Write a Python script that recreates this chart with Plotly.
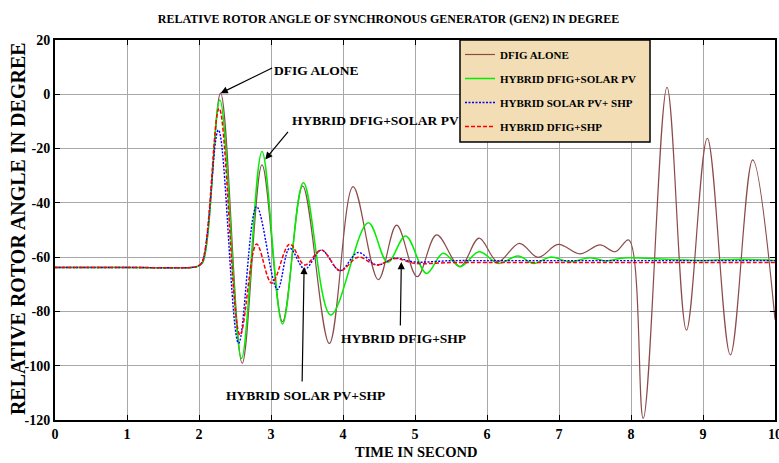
import plotly.graph_objects as go

# ---- data ----
t_dfig = [0, 1.0, 1.9, 1.97, 2.05, 2.30, 2.60, 2.875, 3.16, 3.44, 3.81, 4.14, 4.49, 4.745, 5.03, 5.30,
          5.625, 5.89, 6.15, 6.45, 6.71, 6.99, 7.29, 7.57, 7.78, 7.97, 8.17, 8.50, 8.77, 9.06,
          9.38, 9.69, 10.0]
v_dfig = [-63.8, -63.8, -63.8, -63.5, -62, 0.4, -99.1, -26, -83.8, -33.8, -91.8, -34, -68.3, -48.2, -67.2, -51.8,
          -63.5, -53, -61.7, -54.9, -60.1, -55.3, -58.8, -55.5, -58, -53.7, -119.4, 2.6, -86.9, -16.2,
          -96, -24.2, -83]

t_pv = [0, 1.0, 1.9, 1.97, 2.05, 2.29, 2.59, 2.875, 3.16, 3.45, 3.83, 4.35, 4.62, 4.87, 5.16, 5.39, 5.63,
        5.89, 6.16, 6.43, 6.65, 6.88, 7.15, 7.43, 7.65, 7.9, 8.5, 9.0, 9.5, 10]
v_pv = [-63.8, -63.8, -63.8, -63.5, -62, -2.1, -97.3, -21.1, -84.6, -32.6, -81.3, -47.3, -61.9, -52.2, -66, -58.6, -63.5,
        -58, -62.3, -59.6, -62.3, -60, -61.7, -60.2, -61.4, -60.3, -60.8, -61.2, -60.8, -61.2]

t_pvshp = [0, 1.0, 1.9, 1.96, 2.04, 2.27, 2.55, 2.80, 3.09, 3.26, 3.47, 3.70, 3.96, 4.21, 4.47, 4.72, 5.0,
           5.5, 6, 7, 8, 9, 10]
v_pvshp = [-63.8, -63.8, -63.8, -63.5, -62, -13.2, -91.7, -41.4, -71.9, -56.7, -64.4, -57.4, -65, -58.3, -62.9, -60.4, -61.8,
           -61.3, -61.3, -61.3, -61.3, -61.3, -61.3]

t_shp = [0, 1.0, 1.9, 1.96, 2.04, 2.28, 2.57, 2.80, 3.01, 3.26, 3.47, 3.70, 3.96, 4.21, 4.47, 4.72, 5.0,
         5.5, 6, 7, 8, 9, 10]
v_shp = [-63.8, -63.8, -63.8, -63.5, -62, -5.2, -88.7, -55.2, -69.6, -55.2, -62.9, -57.4, -65, -60, -62.9, -60.5, -62.3,
         -62, -62, -62, -62, -62, -62]

names = ["DFIG ALONE", "HYBRID DFIG+SOLAR PV", "HYBRID SOLAR PV+ SHP", "HYBRID DFIG+SHP"]
x_ticks = [0, 1, 2, 3, 4, 5, 6, 7, 8, 9, 10]
y_ticks = [20, 0, -20, -40, -60, -80, -100, -120]

SERIF = "Liberation Serif, Times New Roman, serif"

fig = go.Figure()
series = [
    (t_dfig, v_dfig, names[0], "#8c4b4b", "solid", 1.2),
    (t_pv, v_pv, names[1], "#00ee00", "solid", 1.5),
    (t_pvshp, v_pvshp, names[2], "#0000ff", "2px,1.5px", 1.4),
    (t_shp, v_shp, names[3], "#ff0000", "4px,2px", 1.5),
]
for i, (tx, vy, nm, col, dash, w) in enumerate(series):
    fig.add_trace(go.Scatter(
        x=tx, y=vy, name=nm, mode="lines", legendgroup=str(i),
        line=dict(color=col, dash=dash, width=w, shape="spline", smoothing=1.0),
    ))

axis_common = dict(
    showgrid=True, gridcolor="#a8a8a8", gridwidth=1,
    showline=True, linecolor="black", linewidth=2, mirror="allticks",
    ticks="inside", ticklen=5, tickcolor="black", tickwidth=1,
    zeroline=False, automargin=False, ticklabeloverflow="allow",
    tickfont=dict(family=SERIF, size=14, color="black", weight="bold"),
)
fig.update_xaxes(range=[0, 10], tickvals=x_ticks, ticktext=[str(v) for v in x_ticks], **axis_common)
fig.update_yaxes(range=[-120, 20], tickvals=y_ticks, ticktext=[str(v) for v in y_ticks], **axis_common)

ann_font = dict(family=SERIF, size=13.5, color="black", weight="bold")
annotations = [
    # labels
    dict(x=3.01, y=8.9, text="DFIG ALONE", showarrow=False, xanchor="left", yanchor="middle", font=ann_font),
    dict(x=3.26, y=-9.5, text="HYBRID DFIG+SOLAR PV", showarrow=False, xanchor="left", yanchor="middle", font=ann_font),
    dict(x=3.94, y=-89.8, text="HYBRID DFIG+SHP", showarrow=False, xanchor="left", yanchor="middle", font=ann_font),
    dict(x=2.35, y=-110.8, text="HYBRID SOLAR PV+SHP", showarrow=False, xanchor="left", yanchor="middle", font=ann_font),
    # arrows
    dict(x=t_dfig[5], y=v_dfig[5], text="", showarrow=True, ax=53, ay=-26, arrowhead=2, arrowsize=1.2, arrowwidth=1.2, arrowcolor="black"),
    dict(x=2.92, y=-24, text="", showarrow=True, ax=24, ay=-29, arrowhead=2, arrowsize=1.2, arrowwidth=1.2, arrowcolor="black"),
    dict(x=4.81, y=-61.8, text="", showarrow=True, ax=-1, ay=65, arrowhead=2, arrowsize=1.2, arrowwidth=1.2, arrowcolor="black"),
    dict(x=3.46, y=-63.6, text="", showarrow=True, ax=-2, ay=116, arrowhead=2, arrowsize=1.2, arrowwidth=1.2, arrowcolor="black"),
    # axis titles
    dict(xref="paper", yref="paper", x=0.501, y=-0.084, text="TIME IN SECOND", showarrow=False,
         xanchor="center", yanchor="middle", font=dict(family=SERIF, size=14.5, color="black", weight="bold")),
    dict(xref="paper", yref="paper", x=-0.0514, y=0.505, text="RELATIVE ROTOR ANGLE IN DEGREE", showarrow=False,
         textangle=-90, xanchor="center", yanchor="middle", font=dict(family=SERIF, size=20, color="black", weight="bold")),
]

fig.update_layout(
    width=779, height=463,
    margin=dict(l=55, r=4, t=40, b=43),
    paper_bgcolor="white", plot_bgcolor="white",
    title=dict(text="RELATIVE ROTOR ANGLE OF SYNCHRONOUS GENERATOR (GEN2) IN DEGREE",
               x=0.4987, xanchor="center", y=1 - 19 / 463, yanchor="middle", automargin=False,
               font=dict(family=SERIF, size=12, color="black", weight="bold")),
    annotations=annotations,
    shapes=[dict(type="rect", xref="paper", yref="paper", x0=0.5625, x1=0.8264, y0=0.7316, y1=1.0,
                 fillcolor="#f3ddb5", line=dict(color="black", width=1.5), layer="above")],
    legend=dict(x=0.5625, y=1.0, xanchor="left", yanchor="top", bgcolor="rgba(0,0,0,0)",
                borderwidth=0, tracegroupgap=5,
                font=dict(family=SERIF, size=11, color="black", weight="bold")),
    showlegend=True,
)

# remove the browser's default 8px body margin so the 779x463 figure fills the window
fig.write_html(
    "out.html",
    config={"displayModeBar": False},
    post_script="document.documentElement.style.overflow='hidden';"
                "document.body.style.margin='0px';document.body.style.overflow='hidden';",
)
